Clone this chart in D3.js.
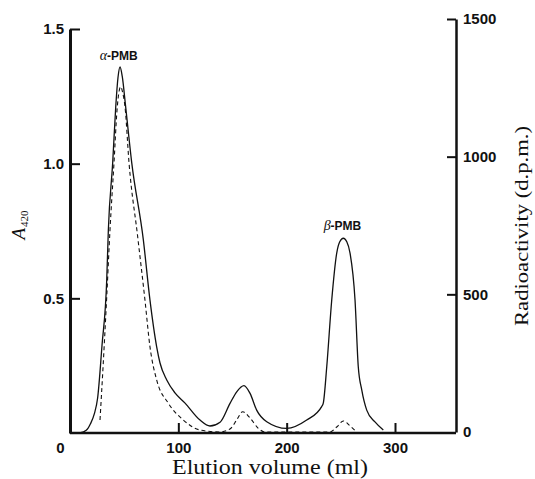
<!DOCTYPE html>
<html lang="en">
<head>
  <meta charset="UTF-8">
  <title>Elution profile</title>
  <script src="https://d3js.org/d3.v7.min.js"></script>
  <style>
    body, html {
      margin: 0;
      padding: 0;
      background-color: #fff;
      overflow: hidden;
    }
    .tick text {
      font-family: 'Liberation Sans', Arial, sans-serif;
      font-size: 15px;
      font-weight: bold;
      fill: #111;
    }
    .axis path, .axis line {
      stroke: #111;
    }
    .title-serif {
      font-family: 'Liberation Serif', 'Times New Roman', serif;
      fill: #111;
    }
    .peak-label {
      font-family: 'Liberation Sans', Arial, sans-serif;
      font-size: 12px;
      font-weight: bold;
      fill: #111;
    }
  </style>
</head>
<body>
  <svg id="chart"></svg>

  <script>
    // Solid line: A420 (left axis)
    const absVolume = [9, 15, 19, 22.5, 25.5, 29.5, 33.9, 35.4, 39.4, 42.2, 44.3, 46.2, 48.2, 51.4, 57.0, 67.7, 73.8, 80.0, 83.1, 89.3, 96.9, 106.2, 120, 129.2, 138.5, 147.7, 153.9, 160.6, 166.2, 172.3, 181.6, 200, 218.5, 232.3, 233.8, 237, 241.6, 246.2, 249, 252.3, 255.5, 258.5, 263.1, 266.1, 269.3, 273.9, 281.5, 289.2];
    const absValues = [0, 0.01, 0.035, 0.072, 0.13, 0.323, 0.568, 0.754, 1.003, 1.21, 1.32, 1.359, 1.325, 1.21, 1.003, 0.717, 0.494, 0.32, 0.26, 0.197, 0.149, 0.111, 0.048, 0.026, 0.04, 0.11, 0.153, 0.176, 0.147, 0.085, 0.042, 0.017, 0.048, 0.098, 0.111, 0.246, 0.494, 0.668, 0.71, 0.723, 0.71, 0.668, 0.494, 0.246, 0.16, 0.085, 0.041, 0.011];

    // Dashed line: radioactivity (right axis)
    const dpmVolume = [27.7, 30.7, 33.9, 36.9, 40.6, 43.4, 45.2, 46.8, 48.5, 50.8, 54.5, 62.3, 69.2, 73.8, 80.0, 90.7, 104.6, 120, 138.5, 147.7, 153.9, 159.4, 166.2, 173.8, 180, 240, 246.2, 252.3, 258.5, 264.6];
    const dpmValues = [43.6, 250, 491, 733, 977, 1169, 1235, 1254, 1235, 1180, 977, 715, 479, 310, 189, 105, 43.6, 7.3, 0, 11, 43.6, 73.7, 51, 13.4, 0, 0, 18, 40, 22, 0];

    const xTicks = [0, 100, 200, 300];
    const leftTicks = [0.5, 1.0, 1.5];
    const rightTicks = [0, 500, 1000, 1500];

    const width = 535;
    const height = 479;

    const svg = d3.select("#chart")
      .attr("width", width)
      .attr("height", height);

    const xScale = d3.scaleLinear().domain([0, 300]).range([70, 395]);
    const yLeft = d3.scaleLinear().domain([0, 1.5]).range([433, 29]);
    const yRight = d3.scaleLinear().domain([0, 1500]).range([432, 19]);
    const xEnd = 456;

    // x axis
    const xAxis = svg.append("g")
      .attr("class", "axis")
      .attr("transform", "translate(0,433)")
      .call(d3.axisBottom(xScale).tickValues(xTicks).tickFormat(d3.format("d"))
        .tickSizeInner(-10).tickSizeOuter(0).tickPadding(9));
    xAxis.select(".domain").attr("d", `M${xScale(0)},0H${xEnd}`).attr("stroke-width", 2.5);
    xAxis.selectAll(".tick line").attr("stroke-width", 2);
    xAxis.selectAll(".tick").filter(d => d === 0).select("text").attr("x", -10);
    xAxis.selectAll(".tick").filter(d => d === 0).select("line").remove();

    // left axis
    const lAxis = svg.append("g")
      .attr("class", "axis")
      .attr("transform", `translate(${xScale(0)},0)`)
      .call(d3.axisLeft(yLeft).tickValues(leftTicks).tickFormat(d3.format(".1f"))
        .tickSizeInner(-10).tickSizeOuter(0).tickPadding(6));
    lAxis.select(".domain").attr("stroke-width", 3);
    lAxis.selectAll(".tick line").attr("stroke-width", 2);

    // right axis
    const rAxis = svg.append("g")
      .attr("class", "axis")
      .attr("transform", `translate(${xEnd},0)`)
      .call(d3.axisRight(yRight).tickValues(rightTicks).tickFormat(d3.format("d"))
        .tickSizeInner(-9).tickSizeOuter(0).tickPadding(7));
    rAxis.select(".domain").attr("stroke-width", 2.5);
    rAxis.selectAll(".tick line").attr("stroke-width", 2);
    rAxis.selectAll(".tick").filter(d => d === 0).select("line").remove();

    // curves
    const absLine = d3.line()
      .x((d, i) => xScale(absVolume[i]))
      .y(d => yLeft(d))
      .curve(d3.curveMonotoneX);

    const dpmLine = d3.line()
      .x((d, i) => xScale(dpmVolume[i]))
      .y(d => yRight(d))
      .curve(d3.curveMonotoneX);

    svg.append("path")
      .attr("d", dpmLine(dpmValues))
      .attr("fill", "none")
      .attr("stroke", "#111")
      .attr("stroke-width", 1.1)
      .attr("stroke-dasharray", "4,3");

    svg.append("path")
      .attr("d", absLine(absValues))
      .attr("fill", "none")
      .attr("stroke", "#111")
      .attr("stroke-width", 1.3);

    // peak labels
    const alpha = svg.append("text").attr("class", "peak-label")
      .attr("x", xScale(45)).attr("y", 60).attr("text-anchor", "middle");
    alpha.append("tspan").text("α").attr("font-family", "'Liberation Serif', serif")
      .attr("font-style", "italic").attr("font-size", "14px").attr("font-weight", "normal");
    alpha.append("tspan").text("-PMB");

    const beta = svg.append("text").attr("class", "peak-label")
      .attr("x", xScale(251.5)).attr("y", 230).attr("text-anchor", "middle");
    beta.append("tspan").text("β").attr("font-family", "'Liberation Serif', serif")
      .attr("font-style", "italic").attr("font-size", "14px").attr("font-weight", "normal");
    beta.append("tspan").text("-PMB");

    // axis titles
    svg.append("text")
      .attr("class", "title-serif")
      .attr("x", 270).attr("y", 474)
      .attr("text-anchor", "middle")
      .attr("font-size", "20px")
      .attr("textLength", 196)
      .attr("lengthAdjust", "spacingAndGlyphs")
      .text("Elution volume (ml)");

    svg.append("text")
      .attr("class", "title-serif")
      .attr("transform", "translate(528,226) rotate(-90)")
      .attr("text-anchor", "middle")
      .attr("font-size", "18px")
      .attr("textLength", 200)
      .attr("lengthAdjust", "spacingAndGlyphs")
      .text("Radioactivity (d.p.m.)");

    const aLabel = svg.append("text")
      .attr("class", "title-serif")
      .attr("transform", "translate(25,225) rotate(-90)")
      .attr("text-anchor", "middle");
    aLabel.append("tspan").text("A").attr("font-style", "italic").attr("font-size", "19px");
    aLabel.append("tspan").text("420").attr("font-size", "11px").attr("dy", 3).attr("dx", 1);
  </script>
</body>
</html>
